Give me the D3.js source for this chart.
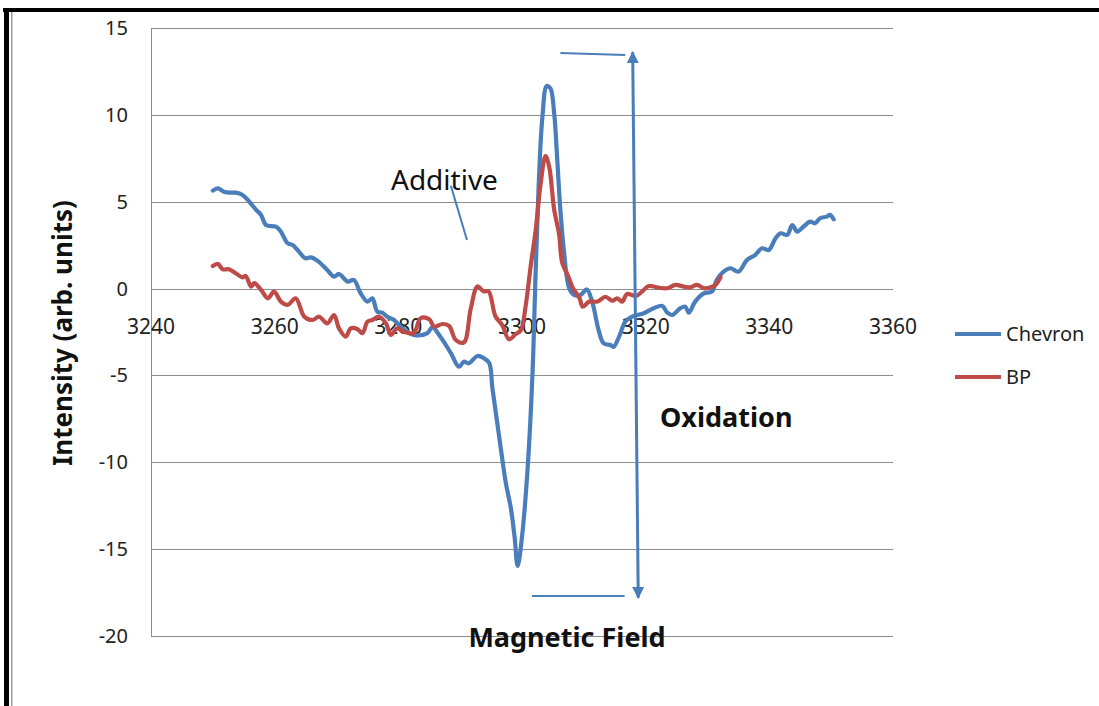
<!DOCTYPE html>
<html>
<head>
<meta charset="utf-8">
<script src="https://cdn.jsdelivr.net/npm/d3@7.9.0/dist/d3.min.js"></script>
<style>
  html, body { margin: 0; padding: 0; background: #fff; }
  svg { display: block; font-family: 'Noto Sans', sans-serif; }
</style>
</head>
<body>
<svg id="chart" width="1099" height="706"></svg>
<script>
// field (G) and intensity readings
const chevronField = [3250.0, 3250.8, 3251.8, 3252.9, 3253.7, 3254.8, 3255.9, 3257.0, 3257.8, 3258.6,
  3260.2, 3261.0, 3262.1, 3262.9, 3263.7, 3265.0, 3265.8, 3266.9, 3268.5, 3269.6,
  3270.4, 3271.8, 3272.8, 3273.9, 3275.0, 3275.8, 3276.6, 3277.4, 3278.2, 3279.3,
  3280.4, 3282.5, 3284.7, 3285.5, 3286.8, 3288.5, 3289.8, 3290.6, 3291.4, 3292.8,
  3293.8, 3294.7, 3295.2, 3296.0, 3296.8, 3297.4, 3298.2, 3298.8, 3299.3, 3300.0,
  3300.9, 3301.7, 3302.2, 3302.7, 3303.3, 3304.0, 3304.6, 3305.2, 3305.7, 3306.2,
  3306.8, 3307.6, 3308.4, 3309.5, 3310.5, 3311.4, 3312.4, 3313.2, 3314.3, 3314.8,
  3315.7, 3316.7, 3317.8, 3319.7, 3321.3, 3322.7, 3323.5, 3324.3, 3325.6, 3326.4,
  3327.0, 3328.0, 3329.4, 3330.7, 3331.5, 3332.6, 3333.7, 3335.0, 3336.4, 3337.7,
  3338.8, 3339.9, 3341.0, 3341.8, 3342.9, 3343.7, 3344.5, 3345.5, 3346.6, 3347.4,
  3348.2, 3349.3, 3349.8, 3350.4];
const chevronValues = [5.64, 5.77, 5.58, 5.52, 5.52, 5.39, 5.00, 4.53, 4.24, 3.66,
  3.56, 3.28, 2.61, 2.51, 2.22, 1.74, 1.80, 1.61, 1.07, 0.69,
  0.84, 0.40, 0.50, -0.27, -0.75, -0.56, -1.33, -1.39, -1.62, -1.81,
  -2.19, -2.67, -2.57, -2.23, -2.77, -3.72, -4.50, -4.21, -4.30, -3.88,
  -4.00, -4.28, -5.69, -7.74, -9.79, -11.22, -12.65, -14.29, -15.97, -14.29,
  -10.40, -4.87, 0.87, 5.99, 9.88, 11.66, 11.52, 10.09, 7.43, 4.55,
  2.10, 0.05, -0.36, -0.36, -0.05, -0.83, -2.41, -3.15, -3.25, -3.36,
  -2.77, -1.91, -1.62, -1.42, -1.13, -1.00, -1.39, -1.52, -1.13, -1.04,
  -1.39, -0.75, -0.27, -0.18, 0.50, 0.97, 1.17, 0.97, 1.65, 1.93,
  2.32, 2.22, 2.90, 3.18, 3.09, 3.66, 3.28, 3.56, 3.85, 3.76,
  4.05, 4.14, 4.24, 3.99];

const bpField = [3250.0, 3250.8, 3251.6, 3252.6, 3253.7, 3254.8, 3255.3, 3256.2, 3256.7, 3257.8,
  3258.9, 3259.9, 3261.0, 3262.1, 3263.4, 3264.8, 3266.1, 3267.2, 3268.5, 3269.6,
  3270.4, 3271.5, 3272.3, 3273.4, 3274.2, 3275.0, 3275.8, 3276.9, 3278.0, 3278.8,
  3279.8, 3280.9, 3282.5, 3283.6, 3285.0, 3285.8, 3287.1, 3288.2, 3289.3, 3290.6,
  3291.7, 3292.8, 3293.8, 3294.6, 3295.7, 3296.8, 3297.9, 3299.0, 3299.8, 3300.6,
  3301.4, 3302.2, 3303.0, 3303.8, 3304.4, 3305.2, 3306.0, 3306.5, 3307.4, 3308.2,
  3309.3, 3309.8, 3310.9, 3312.2, 3313.5, 3314.6, 3315.4, 3316.2, 3317.0, 3318.4,
  3319.4, 3320.5, 3321.8, 3323.5, 3324.8, 3326.2, 3327.2, 3328.3, 3329.4, 3330.5,
  3331.3, 3332.1];
const bpValues = [1.30, 1.42, 1.11, 1.11, 0.88, 0.65, 0.73, 0.11, 0.31, -0.08,
  -0.56, -0.18, -0.75, -0.94, -0.56, -1.62, -1.81, -1.62, -2.00, -1.52,
  -2.29, -2.77, -2.29, -2.34, -2.57, -1.91, -1.81, -1.62, -2.00, -2.67,
  -2.29, -2.48, -2.57, -1.71, -1.77, -2.19, -2.04, -2.15, -2.96, -3.10,
  -1.18, 0.12, -0.16, -0.16, -1.59, -2.10, -2.92, -2.61, -2.41, -0.98,
  1.28, 3.33, 5.99, 7.63, 7.01, 4.55, 3.12, 1.49, 0.78, 0.05,
  -0.54, -1.04, -0.75, -0.75, -0.47, -0.70, -0.56, -0.75, -0.31, -0.43,
  -0.18, 0.15, 0.07, 0.02, 0.21, 0.11, 0.07, 0.21, 0.02, 0.07,
  0.21, 0.65];

const xTicks = [3240, 3260, 3280, 3300, 3320, 3340, 3360];
const yTicks = [15, 10, 5, 0, -5, -10, -15, -20];
const seriesNames = ['Chevron', 'BP'];
const seriesColors = ['#4A7EBB', '#BE4B48'];

const svg = d3.select('#chart');

// page frame (black rule top and left, thin gray inner rule)
svg.append('rect').attr('x', 3).attr('y', 8).attr('width', 1096).attr('height', 4).attr('fill', '#000');
svg.append('rect').attr('x', 4).attr('y', 8).attr('width', 5).attr('height', 698).attr('fill', '#000');
svg.append('rect').attr('x', 11).attr('y', 12).attr('width', 1.5).attr('height', 694).attr('fill', '#9a9a9a');

const x = d3.scaleLinear().domain([3240, 3360]).range([151, 893]);
const y = d3.scaleLinear().domain([-20, 15]).range([636, 28]);

// gridlines
svg.append('g')
  .selectAll('line')
  .data(yTicks)
  .join('line')
  .attr('x1', x(3240))
  .attr('x2', x(3360))
  .attr('y1', (d) => Math.round(y(d)) + 0.5)
  .attr('y2', (d) => Math.round(y(d)) + 0.5)
  .attr('stroke', '#8c8c8c')
  .attr('stroke-width', 1);

// value axis line
svg.append('line')
  .attr('x1', x(3240) + 0.5).attr('x2', x(3240) + 0.5)
  .attr('y1', y(15)).attr('y2', y(-20))
  .attr('stroke', '#8c8c8c');

// y tick labels
svg.append('g')
  .selectAll('text')
  .data(yTicks)
  .join('text')
  .attr('x', 128)
  .attr('y', (d) => y(d) + 7)
  .attr('text-anchor', 'end')
  .attr('font-size', 20)
  .attr('fill', '#222')
  .text((d) => d);

// x tick labels, hanging below the zero line
svg.append('g')
  .selectAll('text')
  .data(xTicks)
  .join('text')
  .attr('x', (d) => x(d))
  .attr('y', y(0) + 45)
  .attr('text-anchor', 'middle')
  .attr('font-size', 21)
  .attr('fill', '#222')
  .text((d) => d);

// series
const line = d3.line()
  .x((d) => x(d[0]))
  .y((d) => y(d[1]))
  .curve(d3.curveCatmullRom.alpha(0.5));

const chevron = d3.zip(chevronField, chevronValues);
const bp = d3.zip(bpField, bpValues);

[chevron, bp].forEach((pts, i) => {
  svg.append('path')
    .attr('d', line(pts))
    .attr('fill', 'none')
    .attr('stroke', seriesColors[i])
    .attr('stroke-width', 4.2)
    .attr('stroke-linejoin', 'round')
    .attr('stroke-linecap', 'round');
});

// legend
seriesNames.forEach((name, i) => {
  const ly = 334 + i * 43;
  svg.append('line')
    .attr('x1', 955).attr('x2', 1001)
    .attr('y1', ly).attr('y2', ly)
    .attr('stroke', seriesColors[i])
    .attr('stroke-width', 4);
  svg.append('text')
    .attr('x', 1006).attr('y', ly + 7)
    .attr('font-size', 20)
    .attr('fill', '#222')
    .text(name);
});

// annotations (in data units)
const annColor = '#4A7EBB';
svg.append('defs').append('marker')
  .attr('id', 'head')
  .attr('viewBox', '0 0 10 10')
  .attr('refX', 9).attr('refY', 5)
  .attr('markerWidth', 4).attr('markerHeight', 4.5)
  .attr('orient', 'auto-start-reverse')
  .append('path')
  .attr('d', 'M0,0 L10,5 L0,10 z')
  .attr('fill', annColor);

svg.append('line')
  .attr('x1', x(3317.9)).attr('y1', y(13.6))
  .attr('x2', x(3318.8)).attr('y2', y(-17.8))
  .attr('stroke', annColor).attr('stroke-width', 3)
  .attr('marker-start', 'url(#head)')
  .attr('marker-end', 'url(#head)');

svg.append('line')
  .attr('x1', x(3306.2)).attr('y1', y(13.56))
  .attr('x2', x(3316.7)).attr('y2', y(13.45))
  .attr('stroke', annColor).attr('stroke-width', 2);

svg.append('line')
  .attr('x1', x(3301.6)).attr('y1', y(-17.7))
  .attr('x2', x(3316.6)).attr('y2', y(-17.7))
  .attr('stroke', annColor).attr('stroke-width', 2);

svg.append('line')
  .attr('x1', x(3288.5)).attr('y1', y(5.91))
  .attr('x2', x(3291.1)).attr('y2', y(2.8))
  .attr('stroke', annColor).attr('stroke-width', 2);

svg.append('text')
  .attr('x', 391).attr('y', 190)
  .attr('font-size', 28)
  .attr('fill', '#111')
  .text('Additive');

svg.append('text')
  .attr('x', 660).attr('y', 427)
  .attr('font-size', 27)
  .attr('font-weight', 'bold')
  .attr('fill', '#111')
  .text('Oxidation');

// axis titles
svg.append('text')
  .attr('x', 567).attr('y', 647)
  .attr('text-anchor', 'middle')
  .attr('font-size', 27)
  .attr('font-weight', 'bold')
  .attr('fill', '#111')
  .text('Magnetic Field');

svg.append('text')
  .attr('transform', 'translate(72,333) rotate(-90)')
  .attr('text-anchor', 'middle')
  .attr('font-size', 26)
  .attr('font-weight', 'bold')
  .attr('fill', '#111')
  .text('Intensity (arb. units)');
</script>
</body>
</html>
